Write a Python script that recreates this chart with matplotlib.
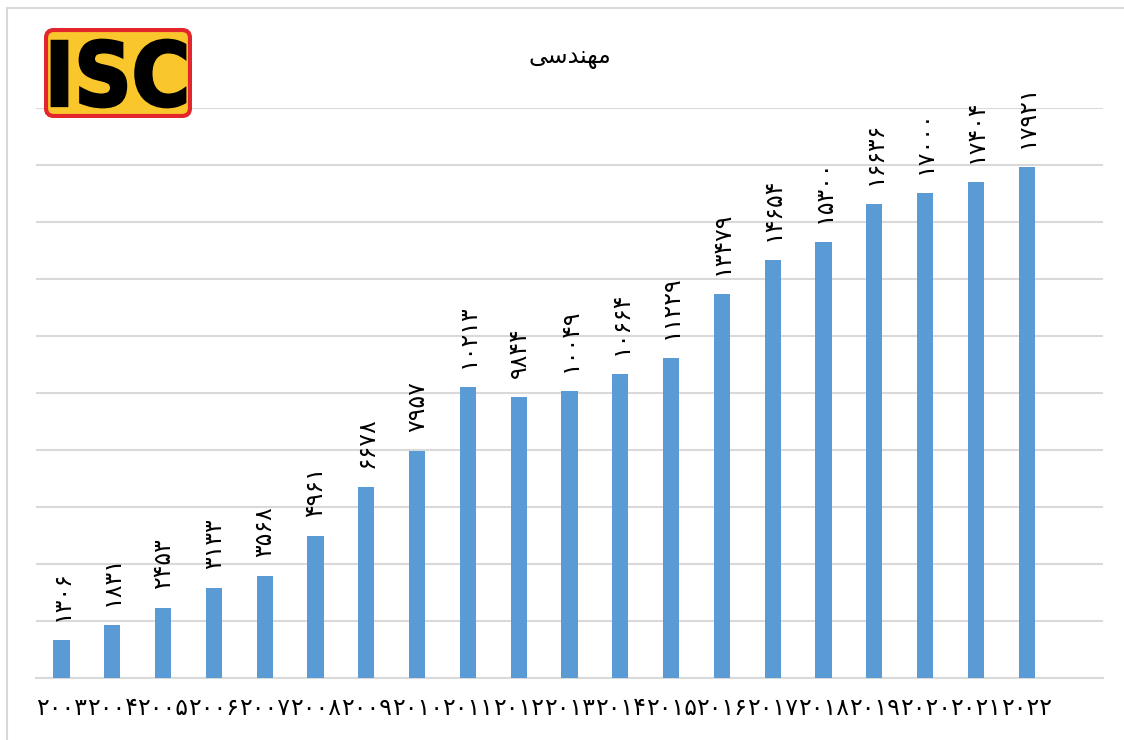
import matplotlib
matplotlib.use("Agg")
import matplotlib.pyplot as plt
from matplotlib.patches import FancyBboxPatch, PathPatch, Rectangle
from matplotlib.textpath import TextPath
from matplotlib.font_manager import FontProperties
from matplotlib.transforms import Affine2D

# data
years = [2003, 2004, 2005, 2006, 2007, 2008, 2009, 2010, 2011, 2012,
         2013, 2014, 2015, 2016, 2017, 2018, 2019, 2020, 2021, 2022]
counts = [1306, 1831, 2453, 3133, 3568, 4961, 6678, 7957, 10213, 9844,
          10049, 10664, 11229, 13479, 14654, 15300, 16636, 17000, 17404, 17921]

# "مهندسی" in shaped presentation forms, visual order
title = "\uFBFD\uFEB3\uFEAA\uFEE8\uFEEC\uFEE3"

BAR_COLOR = "#5B9BD5"
GRID_COLOR = "#D9D9D9"

fa_digits = str.maketrans("0123456789", "۰۱۲۳۴۵۶۷۸۹")


def fa(n):
    return str(n).translate(fa_digits)


W, H = 1124, 740
fig = plt.figure(figsize=(W / 100, H / 100), dpi=100)

# outer frame (only top and left visible)
fig.patches.append(Rectangle((7 / W, -0.1), 1.2, 1 - 8 / H + 0.1, transform=fig.transFigure,
                             fill=False, edgecolor="#D9D9D9", linewidth=1.5))

ax = fig.add_axes([36 / W, 1 - 677.5 / H, (1103 - 36) / W, (677.5 - 108) / H])
x = list(range(len(years)))
ax.bar(x, counts, width=0.32, color=BAR_COLOR, zorder=3)
ax.set_xlim(-0.5, len(years) + 0.5)
ax.set_ylim(0, 20000)
ax.set_yticks(range(0, 20001, 2000))
ax.yaxis.grid(True, color=GRID_COLOR, linewidth=1.5, zorder=0)
ax.tick_params(axis="y", left=False, labelleft=False)
ax.tick_params(axis="x", bottom=False, pad=10)
ax.set_xticks(x)
ax.set_xticklabels([fa(y) for y in years], fontsize=17, family="DejaVu Sans")
for s in ["top", "right", "left"]:
    ax.spines[s].set_visible(False)
ax.spines["bottom"].set_color(GRID_COLOR)
ax.spines["bottom"].set_linewidth(1.5)

for xi, v in zip(x, counts):
    ax.annotate(fa(v), (xi, v), xytext=(0, 19), textcoords="offset pixels",
                rotation=90, ha="center", va="bottom", fontsize=17, family="DejaVu Sans")

fig.text(570 / W, 1 - 57 / H, title, ha="center", va="center", fontsize=17, family="DejaVu Sans")

# ISC logo
lx0, ly0, lx1, ly1 = 44, 28, 192, 118
lax = fig.add_axes([lx0 / W, 1 - ly1 / H, (lx1 - lx0) / W, (ly1 - ly0) / H])
lax.set_xlim(0, lx1 - lx0)
lax.set_ylim(0, ly1 - ly0)
lax.axis("off")
lax.add_patch(FancyBboxPatch((2, 2), lx1 - lx0 - 4, ly1 - ly0 - 4,
                             boxstyle="round,pad=0,rounding_size=8",
                             facecolor="#F9C72C", edgecolor="#E3262B", linewidth=3))
tp = TextPath((0, 0), "ISC", size=100, prop=FontProperties(family="DejaVu Sans", weight="bold"))
ext = tp.get_extents()
tr = (Affine2D().translate(-ext.x0, -ext.y0)
      .scale(133 / ext.width, 67 / ext.height).translate(8, 11))
lax.add_patch(PathPatch(tr.transform_path(tp), facecolor="black", edgecolor="black", linewidth=2))

fig.savefig("out.png", dpi=100)
